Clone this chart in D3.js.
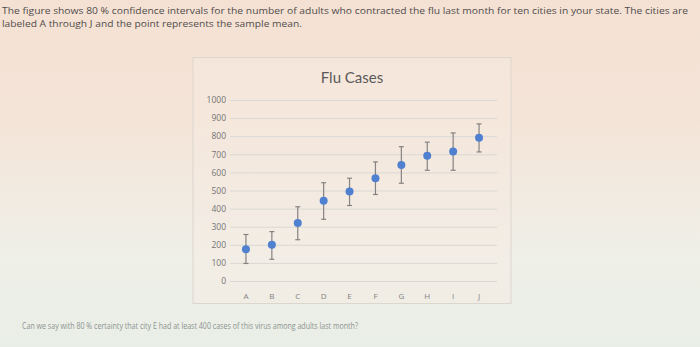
<!DOCTYPE html>
<html>
<head>
<meta charset="utf-8">
<script src="https://cdn.jsdelivr.net/npm/d3@7"></script>
<style>
  html, body { margin: 0; padding: 0; width: 700px; height: 347px; overflow: hidden; }
  body { background: linear-gradient(180deg, #f4e1d3 0%, #f4e4d8 35%, #eff0e8 75%, #e9eee6 100%); }
  svg { display: block; }
</style>
</head>
<body>
<svg id="chart" width="700" height="347"></svg>
<script>
const categories = ["A", "B", "C", "D", "E", "F", "G", "H", "I", "J"];
const means = [175, 200, 320, 443, 495, 567, 641, 692, 716, 792];
const lower = [97, 120, 228, 341, 417, 478, 540, 612, 612, 713];
const upper = [257, 273, 410, 543, 568, 658, 742, 767, 818, 868];
const yTicks = [0, 100, 200, 300, 400, 500, 600, 700, 800, 900, 1000];
const title = "Flu Cases";
const introLines = [
  "The figure shows 80 % confidence intervals for the number of adults who contracted the flu last month for ten cities in your state. The cities are",
  "labeled A through J and the point represents the sample mean."
];
const question = "Can we say with 80 % certainty that city E had at least 400 cases of this virus among adults last month?";

const svg = d3.select("#chart");

// Intro text
svg.append("text").attr("x", 2).attr("y", 14)
  .attr("font-family", "'Open Sans', sans-serif").attr("font-size", 9.8)
  .attr("fill", "#514c4b").attr("textLength", 686).attr("lengthAdjust", "spacingAndGlyphs")
  .text(introLines[0]);
svg.append("text").attr("x", 2).attr("y", 27)
  .attr("font-family", "'Open Sans', sans-serif").attr("font-size", 9.8)
  .attr("fill", "#514c4b").attr("textLength", 300).attr("lengthAdjust", "spacingAndGlyphs")
  .text(introLines[1]);

// Chart frame
svg.append("rect").attr("x", 193).attr("y", 57.5).attr("width", 318).attr("height", 246)
  .attr("fill", "#f7ebe2").attr("fill-opacity", 0.45).attr("stroke", "#dcd6d0").attr("stroke-width", 1);

svg.append("text").attr("x", 352).attr("y", 83).attr("text-anchor", "middle")
  .attr("font-family", "Lato, sans-serif").attr("font-size", 15)
  .attr("fill", "#5a5a5a").text(title);

const x = d3.scaleBand().domain(categories).range([233, 492]).paddingInner(0);
const y = d3.scaleLinear().domain([0, 1000]).range([281, 100]);

// Gridlines + y labels
const yAxis = d3.axisLeft(y).tickValues(yTicks).tickFormat(d3.format("d"))
  .tickSize(-(497 - 230)).tickPadding(5);
const gy = svg.append("g").attr("transform", "translate(230,0)").call(yAxis);
gy.select(".domain").remove();
gy.selectAll(".tick line").attr("stroke", "#dad8d4").attr("stroke-width", 1);
gy.selectAll(".tick text").attr("font-family", "'Open Sans', sans-serif").attr("font-size", 8.5)
  .attr("fill", "#747474").attr("x", -4);

// x labels
const xAxis = d3.axisBottom(x).tickSize(0).tickPadding(10);
const gx = svg.append("g").attr("transform", "translate(0,283)").call(xAxis);
gx.select(".domain").remove();
gx.selectAll(".tick text").attr("font-family", "'Open Sans', sans-serif").attr("font-size", 8)
  .attr("fill", "#828282");

// Error bars
const data = categories.map((c, i) => ({ c, m: means[i], lo: lower[i], hi: upper[i] }));
const cx = d => x(d.c) + x.bandwidth() / 2;
const eb = svg.append("g").attr("stroke", "#858282").attr("stroke-width", 1.2);
eb.selectAll(".v").data(data).join("line")
  .attr("x1", cx).attr("x2", cx).attr("y1", d => y(d.lo)).attr("y2", d => y(d.hi));
eb.selectAll(".t").data(data).join("line")
  .attr("x1", d => cx(d) - 2.5).attr("x2", d => cx(d) + 2.5).attr("y1", d => y(d.hi)).attr("y2", d => y(d.hi));
eb.selectAll(".b").data(data).join("line")
  .attr("x1", d => cx(d) - 2.5).attr("x2", d => cx(d) + 2.5).attr("y1", d => y(d.lo)).attr("y2", d => y(d.lo));

svg.append("g").selectAll("circle").data(data).join("circle")
  .attr("cx", cx).attr("cy", d => y(d.m)).attr("r", 4)
  .attr("fill", "#5080d0");

// Question
svg.append("text").attr("x", 22).attr("y", 329)
  .attr("font-family", "'Open Sans', sans-serif").attr("font-size", 8.5)
  .attr("fill", "#8d9392").attr("textLength", 336).attr("lengthAdjust", "spacingAndGlyphs")
  .text(question);
</script>
</body>
</html>
